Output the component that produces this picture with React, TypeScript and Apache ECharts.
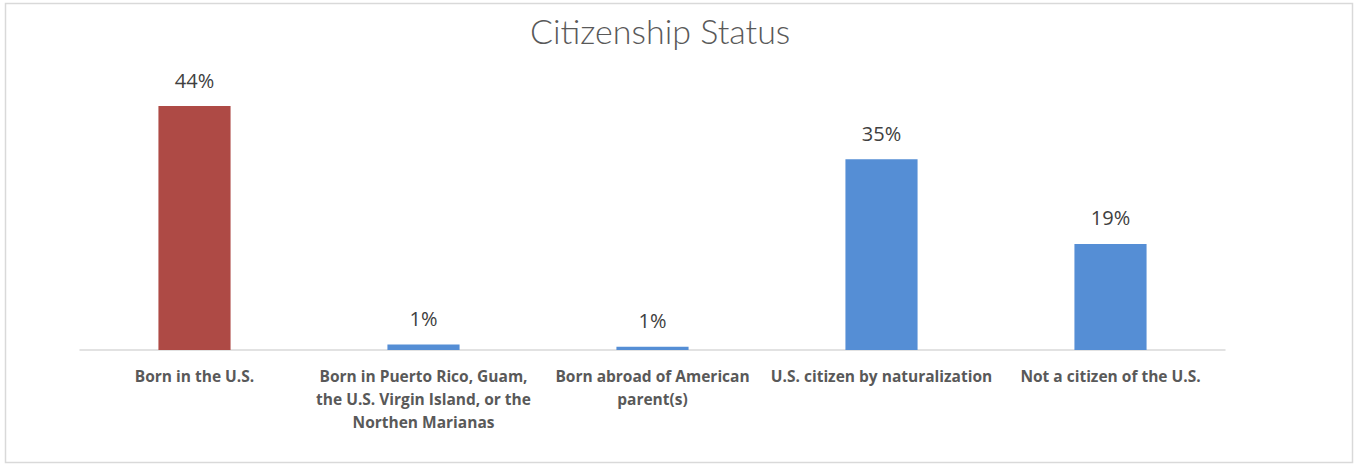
import React, { useEffect, useRef } from "react";
import * as echarts from "echarts";

const titleText = "Citizenship Status";
const categories = [
  "Born in the U.S.",
  "Born in Puerto Rico, Guam,\nthe U.S. Virgin Island, or the\nNorthen Marianas",
  "Born abroad of American\nparent(s)",
  "U.S. citizen by naturalization",
  "Not a citizen of the U.S.",
];
const values = [44.4, 1.0, 0.6, 34.7, 19.3];
const barColors = ["#AE4A45", "#558ED5", "#558ED5", "#558ED5", "#558ED5"];

export default function App() {
  const ref = useRef<HTMLDivElement>(null);
  useEffect(() => {
    if (!ref.current) return;
    const chart = echarts.init(ref.current, null, { renderer: "svg" });
    chart.setOption({
      animation: false,
      backgroundColor: "#ffffff",
      title: {
        text: titleText,
        left: 525,
        top: 8,
        textStyle: {
          fontFamily: "Lato",
          fontSize: 34,
          fontWeight: 300,
          color: "#595959",
        },
      },
      graphic: [
        {
          type: "rect",
          shape: { x: 5.5, y: 3.5, width: 1347, height: 459 },
          style: { fill: "none", stroke: "#d9d9d9", lineWidth: 1.5 },
          silent: true,
        },
      ],
      grid: { left: 80, right: 132, top: 75.25, bottom: 114, containLabel: false },
      xAxis: {
        type: "category",
        data: categories,
        axisLine: { show: true, lineStyle: { color: "#d9d9d9", width: 1.5 } },
        axisTick: { show: false },
        axisLabel: {
          interval: 0,
          margin: 14,
          fontFamily: "Open Sans",
          fontWeight: "bold",
          fontSize: 15.5,
          lineHeight: 23,
          color: "#595959",
        },
      },
      yAxis: {
        type: "value",
        min: 0,
        max: 50,
        show: false,
        splitLine: { show: false },
      },
      series: [
        {
          type: "bar",
          barWidth: "31.5%",
          data: values.map((v, i) => ({ value: v, itemStyle: { color: barColors[i] } })),
          label: {
            show: true,
            position: "top",
            distance: 16,
            fontFamily: "Open Sans",
            fontSize: 20,
            color: "#404040",
            formatter: (p: any) => Math.round(p.value) + "%",
          },
        },
      ],
    });
    return () => chart.dispose();
  }, []);
  return (
    <div
      ref={ref}
      style={{ position: "absolute", left: 0, top: 0, width: 1357, height: 464 }}
    />
  );
}
